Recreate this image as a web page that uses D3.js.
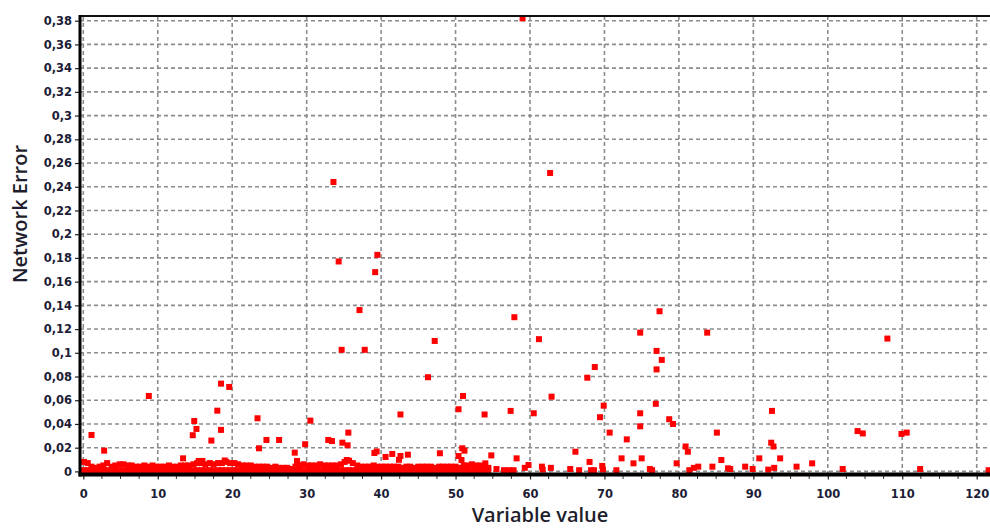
<html>
  <head>
    <script src="https://d3js.org/d3.v7.min.js"></script>
    <style>
      body { margin: 0; background: #fff; }
      .tick text { font-family: "DejaVu Sans", sans-serif; font-size: 11.5px; font-weight: bold; fill: #1c1c36; }
      .title { font-family: "Open Sans", sans-serif; font-size: 20px; font-weight: 600; fill: #1e1e2c; }
    </style>
  </head>
  <body>
    <svg class="chart"></svg>
  </body>
  <script>
  const xTicks = [0, 10, 20, 30, 40, 50, 60, 70, 80, 90, 100, 110, 120];
  const xMinor = [2.5, 5, 7.5, 12.5, 15, 17.5, 22.5, 25, 27.5, 32.5, 35, 37.5, 42.5, 45, 47.5, 52.5, 55, 57.5,
    62.5, 65, 67.5, 72.5, 75, 77.5, 82.5, 85, 87.5, 92.5, 95, 97.5, 102.5, 105, 107.5, 112.5, 115, 117.5];
  const yTicks = [0, 0.02, 0.04, 0.06, 0.08, 0.1, 0.12, 0.14, 0.16, 0.18, 0.2, 0.22, 0.24, 0.26, 0.28, 0.3, 0.32, 0.34, 0.36, 0.38];

  // scattered samples [variable value, network error]
  const points = [
    [59.0, 0.382], [62.7, 0.2516], [33.6, 0.244], [34.3, 0.177], [39.5, 0.1826], [39.2, 0.168],
    [37.1, 0.136], [34.7, 0.1025], [37.8, 0.1025], [47.2, 0.110], [57.9, 0.130], [61.2, 0.1115],
    [46.3, 0.0794], [77.4, 0.135], [74.8, 0.117], [83.8, 0.117], [108.0, 0.112], [77.0, 0.1016],
    [77.7, 0.094], [77.0, 0.086], [67.7, 0.079], [68.7, 0.088],
    [8.8, 0.0636], [18.5, 0.074], [19.6, 0.0712], [18.0, 0.0512], [14.9, 0.0425], [15.2, 0.0358],
    [14.7, 0.0305], [18.5, 0.035], [17.2, 0.026], [1.1, 0.0307], [2.8, 0.0175], [13.4, 0.011],
    [15.5, 0.0088], [16.0, 0.0088], [19.0, 0.0092],
    [23.4, 0.0448], [23.6, 0.0195], [24.6, 0.0265], [26.3, 0.0265], [28.4, 0.0158], [28.7, 0.0088],
    [29.8, 0.0229], [30.5, 0.0428], [32.9, 0.0265], [33.4, 0.0256], [34.8, 0.0242], [35.5, 0.022],
    [35.6, 0.0327], [35.4, 0.0096], [39.1, 0.0155], [39.4, 0.0168], [40.6, 0.0122], [41.5, 0.0147],
    [42.4, 0.0098], [42.6, 0.013], [42.6, 0.048], [43.6, 0.0141], [47.9, 0.0153], [50.4, 0.0524],
    [51.0, 0.0636], [50.9, 0.0195], [51.2, 0.0175], [50.4, 0.013], [50.8, 0.0096], [53.9, 0.048],
    [51.7, 0.004],
    [57.4, 0.051], [60.5, 0.049], [62.9, 0.063], [69.9, 0.0554], [69.4, 0.0457], [70.7, 0.0327],
    [73.0, 0.027], [74.8, 0.049], [74.8, 0.038], [76.9, 0.057], [78.7, 0.044], [79.2, 0.040],
    [80.9, 0.021], [81.2, 0.0166], [85.1, 0.0327], [85.7, 0.0096], [66.1, 0.0166], [54.8, 0.0135],
    [58.2, 0.011], [54.0, 0.0068], [59.8, 0.0054], [59.3, 0.003], [55.5, 0.002], [56.5, 0.001],
    [57.2, 0.001], [57.8, 0.001], [61.6, 0.004], [61.7, 0.0015], [62.8, 0.003], [65.4, 0.002],
    [66.6, 0.001], [68.0, 0.008], [68.2, 0.001], [68.6, 0.001], [69.7, 0.0046], [69.8, 0.0015],
    [71.6, 0.001], [72.3, 0.011], [73.9, 0.0068], [75.0, 0.011], [76.1, 0.002], [76.4, 0.001],
    [79.7, 0.0068], [81.4, 0.001], [82.0, 0.003], [82.6, 0.004], [84.5, 0.004], [86.6, 0.0026],
    [92.5, 0.051], [104.0, 0.034], [104.7, 0.032], [109.9, 0.0316], [110.6, 0.0327], [92.4, 0.0242],
    [92.7, 0.021], [90.8, 0.011], [93.6, 0.011], [88.9, 0.004], [89.9, 0.002], [92.0, 0.0015],
    [92.8, 0.003], [95.8, 0.004], [97.9, 0.0068], [102.0, 0.002], [112.4, 0.002], [121.6, 0.001],
    [86.9, 0.002]
  ];

  // dense low-error band, [variable value, top of band]
  const band = [
    [0.1, 0.008], [0.6, 0.007], [1.1, 0.004], [1.6, 0.003], [2.2, 0.004], [2.7, 0.005], [3.2, 0.007],
    [3.8, 0.004], [4.3, 0.005], [4.9, 0.006], [5.4, 0.006], [6.0, 0.005], [6.5, 0.005], [7.1, 0.004],
    [7.6, 0.004], [8.2, 0.005], [8.7, 0.004], [9.3, 0.005], [9.8, 0.004], [10.4, 0.004], [10.9, 0.004],
    [11.5, 0.005], [12.0, 0.004], [12.6, 0.004], [13.1, 0.005], [13.7, 0.005], [14.2, 0.005], [14.8, 0.006],
    [15.3, 0.007], [15.9, 0.007], [16.4, 0.006], [17.0, 0.007], [17.5, 0.006], [18.1, 0.007], [18.6, 0.007],
    [19.2, 0.008], [19.7, 0.007], [20.3, 0.007], [20.8, 0.006], [21.4, 0.005], [21.9, 0.005], [22.5, 0.005],
    [23.0, 0.004], [23.6, 0.004], [24.1, 0.004], [24.7, 0.004], [25.2, 0.003], [25.8, 0.004], [26.3, 0.003],
    [26.9, 0.003], [27.4, 0.003], [28.0, 0.002], [28.5, 0.004], [29.1, 0.005], [29.6, 0.006], [30.2, 0.005],
    [30.7, 0.005], [31.3, 0.005], [31.8, 0.006], [32.4, 0.005], [32.9, 0.005], [33.5, 0.005], [34.0, 0.005],
    [34.6, 0.006], [35.1, 0.008], [35.7, 0.009], [36.2, 0.007], [36.8, 0.005], [37.3, 0.004], [37.9, 0.004],
    [38.4, 0.004], [39.0, 0.005], [39.5, 0.004], [40.1, 0.004], [40.6, 0.004], [41.2, 0.004], [41.7, 0.004],
    [42.3, 0.004], [42.8, 0.003], [43.4, 0.004], [43.9, 0.004], [44.5, 0.003], [45.0, 0.004], [45.6, 0.004],
    [46.1, 0.004], [46.7, 0.004], [47.2, 0.003], [47.8, 0.004], [48.3, 0.004], [48.9, 0.004], [49.4, 0.004],
    [50.0, 0.004], [50.5, 0.003], [51.1, 0.005], [51.6, 0.005], [52.2, 0.006], [52.7, 0.005], [53.3, 0.005],
    [53.8, 0.004], [54.4, 0.003]
  ];
  const bandFloor = 0.001;

  function drawChart(){
    let width = 990;
    let height = 529;
    let axisX = 80, axisY = 474.5, topY = 16;

    let x = d3.scaleLinear().domain([0, 122]).range([83.3, 83.3 + 122 * 7.445]);
    let y = d3.scaleLinear().domain([0, 0.38]).range([471.4, 20.7]);
    let fmt = d3.formatLocale({decimal: ",", thousands: ".", grouping: [3], currency: ["", ""]}).format("~g");

    let svg = d3.select('.chart')
      .attr('width', width)
      .attr('height', height);

    // grid
    svg.append('g').selectAll('line')
      .data(yTicks)
      .join('line')
        .attr('x1', axisX).attr('x2', width)
        .attr('y1', d => y(d)).attr('y2', d => y(d))
        .attr('stroke', '#8c8c8c').attr('stroke-width', 1.6).attr('stroke-dasharray', '4,3');
    svg.append('g').selectAll('line')
      .data(xTicks)
      .join('line')
        .attr('x1', d => x(d)).attr('x2', d => x(d))
        .attr('y1', topY).attr('y2', axisY)
        .attr('stroke', '#8c8c8c').attr('stroke-width', 1.6).attr('stroke-dasharray', '4,3');

    // points
    let sq = 6;
    let marks = svg.append('g').attr('fill', '#ff0000');
    marks.selectAll('rect.low')
      .data(band)
      .join('rect')
        .attr('class', 'low')
        .attr('x', d => x(d[0]) - sq / 2).attr('y', d => y(bandFloor) - sq / 2)
        .attr('width', sq).attr('height', sq);
    marks.selectAll('rect.top')
      .data(band)
      .join('rect')
        .attr('class', 'top')
        .attr('x', d => x(d[0]) - sq / 2).attr('y', d => y(d[1]) - sq / 2)
        .attr('width', sq).attr('height', sq);
    marks.selectAll('rect.pt')
      .data(points)
      .join('rect')
        .attr('class', 'pt')
        .attr('x', d => x(d[0]) - sq / 2).attr('y', d => y(d[1]) - sq / 2)
        .attr('width', sq).attr('height', sq);

    // axes
    let yAxis = svg.append('g')
      .attr('transform', `translate(${axisX},0)`)
      .call(d3.axisLeft(y).tickValues(yTicks).tickFormat(fmt).tickSize(5).tickPadding(3));
    yAxis.select('.domain').remove();
    yAxis.selectAll('.tick line').attr('stroke', '#222').attr('stroke-width', 1.2);

    let xAxis = svg.append('g')
      .attr('transform', `translate(0,${axisY})`)
      .call(d3.axisBottom(x).tickValues(xTicks).tickFormat(d3.format('d')).tickSize(5).tickPadding(10));
    xAxis.select('.domain').remove();
    xAxis.selectAll('.tick line').attr('stroke', '#222').attr('stroke-width', 1.2);

    svg.append('g').selectAll('line')
      .data(xMinor)
      .join('line')
        .attr('x1', d => x(d)).attr('x2', d => x(d))
        .attr('y1', axisY).attr('y2', axisY + 4.5)
        .attr('stroke', '#333').attr('stroke-width', 1);

    svg.append('line')
      .attr('x1', axisX).attr('x2', width).attr('y1', topY).attr('y2', topY)
      .attr('stroke', '#111').attr('stroke-width', 2);
    svg.append('line')
      .attr('x1', axisX).attr('x2', axisX).attr('y1', topY - 1).attr('y2', axisY + 2)
      .attr('stroke', '#000').attr('stroke-width', 3);
    svg.append('line')
      .attr('x1', axisX - 1.5).attr('x2', width).attr('y1', axisY).attr('y2', axisY)
      .attr('stroke', '#000').attr('stroke-width', 4);

    // titles
    svg.append('text')
      .attr('class', 'title')
      .attr('x', 540).attr('y', 522)
      .attr('text-anchor', 'middle')
      .text('Variable value');
    svg.append('text')
      .attr('class', 'title')
      .attr('transform', 'translate(27,214) rotate(-90)')
      .attr('text-anchor', 'middle')
      .text('Network Error');
  }

  drawChart();
  </script>
</html>
